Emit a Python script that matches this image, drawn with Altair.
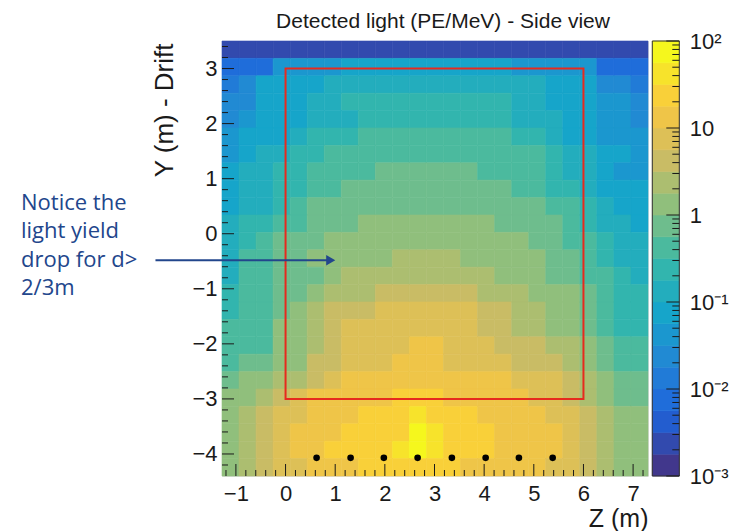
import altair as alt
import numpy as np
import pandas as pd

# ---------------- data ----------------
Z_RANGE = (-1.28, 7.3)     # histogram range along Z (m)
Y_RANGE = (-4.4, 3.5)      # histogram range along Y (m)
NZ, NY = 25, 25

# detected light (PE/MeV), rows from top (Y=3.5) to bottom (Y=-4.4), 25 Z bins each
light_yield = [
    [0.0024, 0.0024, 0.0024, 0.0024, 0.0024, 0.0024, 0.0024, 0.0024, 0.0024, 0.0024, 0.0024, 0.0024, 0.0024, 0.0024, 0.0024, 0.0024, 0.0024, 0.0024, 0.0024, 0.0024, 0.0024, 0.0024, 0.0024, 0.0024, 0.0024],
    [0.0075, 0.0075, 0.0075, 0.042, 0.042, 0.042, 0.042, 0.075, 0.075, 0.075, 0.075, 0.075, 0.075, 0.075, 0.075, 0.075, 0.075, 0.042, 0.042, 0.042, 0.042, 0.042, 0.0075, 0.0075, 0.0075],
    [0.013, 0.024, 0.075, 0.075, 0.075, 0.075, 0.13, 0.13, 0.13, 0.13, 0.13, 0.13, 0.13, 0.13, 0.13, 0.13, 0.13, 0.13, 0.13, 0.075, 0.075, 0.075, 0.024, 0.024, 0.013],
    [0.024, 0.024, 0.075, 0.075, 0.075, 0.13, 0.13, 0.24, 0.24, 0.24, 0.24, 0.24, 0.24, 0.24, 0.24, 0.24, 0.24, 0.13, 0.13, 0.075, 0.075, 0.075, 0.042, 0.042, 0.024],
    [0.024, 0.042, 0.075, 0.075, 0.075, 0.13, 0.13, 0.13, 0.24, 0.24, 0.24, 0.24, 0.24, 0.24, 0.24, 0.24, 0.24, 0.13, 0.13, 0.13, 0.075, 0.075, 0.042, 0.042, 0.024],
    [0.042, 0.075, 0.075, 0.075, 0.13, 0.24, 0.24, 0.24, 0.42, 0.42, 0.42, 0.42, 0.42, 0.42, 0.42, 0.42, 0.42, 0.24, 0.24, 0.13, 0.075, 0.075, 0.042, 0.042, 0.042],
    [0.042, 0.075, 0.13, 0.13, 0.24, 0.24, 0.42, 0.42, 0.42, 0.42, 0.42, 0.42, 0.42, 0.42, 0.42, 0.42, 0.42, 0.42, 0.42, 0.24, 0.13, 0.13, 0.075, 0.075, 0.042],
    [0.075, 0.13, 0.13, 0.24, 0.24, 0.42, 0.42, 0.42, 0.42, 0.75, 0.75, 0.75, 0.75, 0.75, 0.75, 0.42, 0.42, 0.42, 0.42, 0.24, 0.13, 0.13, 0.075, 0.042, 0.042],
    [0.075, 0.13, 0.13, 0.24, 0.24, 0.42, 0.42, 0.75, 0.75, 0.75, 0.75, 0.75, 0.75, 0.75, 0.75, 0.75, 0.75, 0.42, 0.42, 0.24, 0.24, 0.13, 0.075, 0.075, 0.075],
    [0.075, 0.13, 0.13, 0.24, 0.42, 0.75, 0.75, 0.75, 0.75, 0.75, 0.75, 0.75, 0.75, 0.75, 0.75, 0.75, 0.75, 0.75, 0.75, 0.42, 0.42, 0.24, 0.13, 0.075, 0.075],
    [0.13, 0.24, 0.24, 0.42, 0.42, 0.75, 0.75, 0.75, 1.3, 1.3, 1.3, 1.3, 1.3, 1.3, 1.3, 1.3, 0.75, 0.75, 0.75, 0.75, 0.42, 0.24, 0.13, 0.13, 0.075],
    [0.13, 0.24, 0.42, 0.75, 0.75, 0.75, 1.3, 1.3, 1.3, 1.3, 1.3, 1.3, 1.3, 1.3, 1.3, 1.3, 1.3, 1.3, 0.75, 0.75, 0.42, 0.42, 0.24, 0.13, 0.13],
    [0.13, 0.42, 0.42, 0.75, 0.75, 1.3, 1.3, 1.3, 1.3, 1.3, 2.4, 2.4, 2.4, 2.4, 1.3, 1.3, 1.3, 1.3, 1.3, 0.75, 0.75, 0.42, 0.24, 0.13, 0.13],
    [0.13, 0.42, 0.42, 0.75, 0.75, 0.75, 1.3, 2.4, 2.4, 2.4, 2.4, 2.4, 2.4, 2.4, 2.4, 2.4, 1.3, 1.3, 1.3, 0.75, 0.75, 0.42, 0.42, 0.24, 0.13],
    [0.24, 0.42, 0.42, 0.75, 0.75, 1.3, 2.4, 2.4, 2.4, 4.2, 4.2, 4.2, 4.2, 4.2, 4.2, 2.4, 2.4, 2.4, 1.3, 1.3, 1.3, 0.75, 0.42, 0.24, 0.24],
    [0.24, 0.42, 0.42, 0.75, 1.3, 2.4, 4.2, 4.2, 4.2, 7.5, 7.5, 7.5, 7.5, 7.5, 7.5, 4.2, 4.2, 2.4, 2.4, 1.3, 1.3, 0.75, 0.42, 0.24, 0.24],
    [0.42, 0.42, 0.42, 1.3, 1.3, 2.4, 4.2, 7.5, 7.5, 7.5, 7.5, 7.5, 7.5, 7.5, 7.5, 4.2, 4.2, 2.4, 2.4, 1.3, 1.3, 0.75, 0.42, 0.24, 0.24],
    [0.42, 0.42, 0.42, 1.3, 1.3, 2.4, 4.2, 7.5, 7.5, 7.5, 7.5, 13, 13, 7.5, 7.5, 7.5, 4.2, 4.2, 4.2, 2.4, 2.4, 1.3, 0.75, 0.42, 0.42],
    [0.42, 0.75, 0.75, 1.3, 1.3, 4.2, 4.2, 7.5, 7.5, 7.5, 13, 13, 13, 7.5, 7.5, 7.5, 7.5, 4.2, 4.2, 4.2, 2.4, 1.3, 0.75, 0.42, 0.42],
    [0.75, 1.3, 1.3, 2.4, 2.4, 4.2, 7.5, 13, 13, 13, 13, 13, 13, 13, 13, 13, 13, 7.5, 7.5, 7.5, 4.2, 2.4, 1.3, 0.75, 0.75],
    [1.3, 1.3, 2.4, 4.2, 7.5, 13, 13, 13, 13, 13, 24, 24, 24, 13, 13, 13, 13, 13, 7.5, 7.5, 4.2, 2.4, 1.3, 0.75, 0.75],
    [1.3, 2.4, 4.2, 7.5, 7.5, 13, 13, 13, 24, 24, 24, 42, 24, 24, 24, 13, 13, 13, 13, 7.5, 7.5, 4.2, 2.4, 1.3, 1.3],
    [1.3, 2.4, 4.2, 7.5, 13, 13, 13, 24, 24, 24, 24, 75, 42, 24, 24, 24, 13, 13, 13, 13, 7.5, 4.2, 2.4, 1.3, 1.3],
    [1.3, 2.4, 4.2, 7.5, 13, 13, 24, 24, 24, 24, 42, 75, 42, 24, 24, 24, 13, 13, 13, 13, 7.5, 4.2, 2.4, 1.3, 1.3],
    [1.3, 2.4, 4.2, 7.5, 7.5, 13, 13, 13, 24, 24, 24, 24, 24, 24, 13, 13, 13, 13, 13, 7.5, 7.5, 4.2, 2.4, 1.3, 1.3],
]
assert len(light_yield) == NY and all(len(r) == NZ for r in light_yield)

# photon detectors (black dots)
pmt_z = [0.625, 1.31, 1.98, 2.66, 3.35, 4.03, 4.70, 5.38]
pmt_y = [-4.07, -4.07, -4.07, -4.07, -4.07, -4.07, -4.07, -4.07]

# fiducial box (red)
fid_z = [0, 6]
fid_y = [-3, 3]

# axis ticks / labels
x_major = [-1, 0, 1, 2, 3, 4, 5, 6, 7]
y_major = [-4, -3, -2, -1, 0, 1, 2, 3]
x_minor = [v for v in np.round(np.arange(-1.2, 7.21, 0.2), 1) if abs(v - round(v)) > 1e-6]
y_minor = [v for v in np.round(np.arange(-4.2, 3.41, 0.2), 1) if abs(v - round(v)) > 1e-6]
cb_major = [1e-3, 1e-2, 1e-1, 1, 10, 100]
cb_minor = [k * 10.0 ** d for d in range(-3, 2) for k in range(2, 10)]

# texts
title_text = "Detected light (PE/MeV) - Side view"
note_lines = ["Notice the", "light yield", "drop for d>", "2/3m"]
source_text = "From DUNE DP"
arrow_z = [-2.62, 0.91]
arrow_y = [-0.48]

# ---------------- palette (ROOT kBird), 20 contour levels over 1e-3..1e2 ----------------
stops = [0.0, 0.125, 0.25, 0.375, 0.5, 0.625, 0.75, 0.875, 1.0]
red = [0.2082, 0.0592, 0.0780, 0.0232, 0.1802, 0.5301, 0.8186, 0.9956, 0.9764]
green = [0.1664, 0.3599, 0.5041, 0.6419, 0.7178, 0.7492, 0.7328, 0.7862, 0.9832]
blue = [0.5293, 0.8684, 0.8385, 0.7914, 0.6425, 0.4662, 0.3499, 0.1968, 0.0539]
NLEV = 20
def bird(t):
    r, g, b = (np.interp(t, stops, ch) for ch in (red, green, blue))
    # slight wash-out as in the reference scan
    r, g, b = (0.92 * c + 0.08 * 0.78 for c in (r, g, b))
    return "#%02x%02x%02x" % (int(round(r * 255)), int(round(g * 255)), int(round(b * 255)))
band_colors = [bird(k / (NLEV - 1)) for k in range(NLEV)]
band_edges = [10.0 ** (-3 + 5 * k / NLEV) for k in range(NLEV + 1)]
thresholds = band_edges[1:-1]

# ---------------- tables ----------------
z_edges = np.linspace(Z_RANGE[0], Z_RANGE[1], NZ + 1)
y_edges = np.linspace(Y_RANGE[1], Y_RANGE[0], NY + 1)
cells = pd.DataFrame([
    dict(z0=z_edges[c], z1=z_edges[c + 1], y0=y_edges[r + 1], y1=y_edges[r], v=light_yield[r][c])
    for r in range(NY) for c in range(NZ)
])

W, H = 426, 435
FONT = "Liberation Sans"
INK = "#1a1a1a"
NOTE = "#22468c"

xs = alt.Scale(domain=list(Z_RANGE), nice=False, zero=False)
ys = alt.Scale(domain=list(Y_RANGE), nice=False, zero=False)
cscale = alt.Scale(type="threshold", domain=thresholds, range=band_colors)

heat = alt.Chart(cells).mark_rect(strokeWidth=0.6).encode(
    x=alt.X("z0:Q", scale=xs, axis=alt.Axis(
        values=x_major, ticks=False, domain=False, grid=False, labelFontSize=22,
        labelFont=FONT, labelColor=INK, labelPadding=7, title="Z (m)", titleFont=FONT,
        titleFontSize=25, titleFontWeight="normal", titleColor=INK, titleX=W, titleY=50,
        titleAlign="right", titleBaseline="alphabetic")),
    x2="z1:Q",
    y=alt.Y("y0:Q", scale=ys, axis=alt.Axis(
        values=y_major, ticks=False, domain=False, grid=False, labelFontSize=22,
        labelFont=FONT, labelColor=INK, labelPadding=5, title="Y (m) - Drift", titleFont=FONT,
        titleFontSize=26, titleFontWeight="normal", titleColor=INK, titleX=-50, titleY=2,
        titleAngle=270, titleAlign="right", titleBaseline="alphabetic")),
    y2="y1:Q",
    color=alt.Color("v:Q", scale=cscale, legend=None),
    stroke=alt.Stroke("v:Q", scale=cscale, legend=None),
)

box = alt.Chart(pd.DataFrame({"z0": [fid_z[0]], "z1": [fid_z[1]], "y0": [fid_y[0]], "y1": [fid_y[1]]})).mark_rect(
    filled=False, stroke="#e62a1e", strokeWidth=2
).encode(x=alt.X("z0:Q", scale=xs), x2="z1:Q", y=alt.Y("y0:Q", scale=ys), y2="y1:Q")

dots = alt.Chart(pd.DataFrame({"z0": pmt_z, "y0": pmt_y})).mark_circle(size=44, color="black", opacity=1).encode(
    x=alt.X("z0:Q", scale=xs), y=alt.Y("y0:Q", scale=ys))

ytick_major = alt.Chart(pd.DataFrame({"y0": y_major})).mark_rule(color=INK, strokeWidth=1).encode(
    y=alt.Y("y0:Q", scale=ys), x=alt.value(0), x2=alt.value(12))
ytick_minor = alt.Chart(pd.DataFrame({"y0": y_minor})).mark_rule(color=INK, strokeWidth=1).encode(
    y=alt.Y("y0:Q", scale=ys), x=alt.value(0), x2=alt.value(6))
xtick_major = alt.Chart(pd.DataFrame({"z0": x_major})).mark_rule(color=INK, strokeWidth=1).encode(
    x=alt.X("z0:Q", scale=xs), y=alt.value(H), y2=alt.value(H - 12))
xtick_minor = alt.Chart(pd.DataFrame({"z0": x_minor})).mark_rule(color=INK, strokeWidth=1).encode(
    x=alt.X("z0:Q", scale=xs), y=alt.value(H), y2=alt.value(H - 6))

arrow_line = alt.Chart(pd.DataFrame({"z0": [arrow_z[0]], "z1": [arrow_z[1]], "y0": arrow_y})).mark_rule(
    color=NOTE, strokeWidth=2).encode(x=alt.X("z0:Q", scale=xs), x2="z1:Q", y=alt.Y("y0:Q", scale=ys))
arrow_head = alt.Chart(pd.DataFrame({"z0": [arrow_z[1]], "y0": arrow_y})).mark_point(
    shape="triangle-right", size=110, filled=True, color=NOTE, opacity=1).encode(
    x=alt.X("z0:Q", scale=xs), y=alt.Y("y0:Q", scale=ys))

note = alt.Chart(pd.DataFrame({"t": ["\n".join(note_lines)]})).mark_text(
    align="left", baseline="top", font="Open Sans", fontSize=22, lineHeight=28.3,
    lineBreak="\n", color=NOTE).encode(text="t:N", x=alt.value(-201), y=alt.value(152))

source = alt.Chart(pd.DataFrame({"t": [source_text]})).mark_text(
    align="left", baseline="alphabetic", font="Open Sans", fontSize=20, color="#9a9a9a"
).encode(text="t:N", x=alt.value(10), y=alt.value(H + 69))

title = alt.Chart(pd.DataFrame({"t": [title_text]})).mark_text(
    align="center", baseline="alphabetic", font=FONT, fontSize=21, color=INK
).encode(text="t:N", x=alt.value(W / 2 + 8), y=alt.value(-13))

main = alt.layer(heat, box, dots, ytick_major, ytick_minor, xtick_major, xtick_minor,
                 arrow_line, arrow_head, note, source, title)

# ---------------- colour bar ----------------
CB_X0, CB_X1 = 430.3, 457.3
cbs = alt.Scale(type="log", domain=[band_edges[0], band_edges[-1]], nice=False)
cb_df = pd.DataFrame({"lo": band_edges[:-1], "hi": band_edges[1:], "col": band_colors})
label_expr = ("datum.value >= 99 ? '10²' : datum.value >= 9 ? '10' : datum.value >= 0.9 ? '1' : "
              "datum.value >= 0.09 ? '10⁻¹' : datum.value >= 0.009 ? '10⁻²' : '10⁻³'")
cbar = alt.Chart(cb_df).mark_rect(strokeWidth=0.6).encode(
    x=alt.value(CB_X0), x2=alt.value(CB_X1),
    y=alt.Y("lo:Q", scale=cbs, axis=alt.Axis(
        orient="right", offset=CB_X1 - W, values=cb_major, labelExpr=label_expr, ticks=False,
        domain=False, grid=False, labelFont=FONT, labelFontSize=22, labelColor=INK,
        labelPadding=10, title=None)),
    y2="hi:Q",
    color=alt.Color("col:N", scale=None),
    stroke=alt.Stroke("col:N", scale=None),
)
cb_frame = alt.Chart(pd.DataFrame({"lo": [band_edges[0]], "hi": [band_edges[-1]]})).mark_rect(
    filled=False, stroke="#333333", strokeWidth=1).encode(
    x=alt.value(CB_X0), x2=alt.value(CB_X1), y=alt.Y("lo:Q", scale=cbs), y2="hi:Q")
cb_tmaj = alt.Chart(pd.DataFrame({"lo": cb_major})).mark_rule(color=INK, strokeWidth=1).encode(
    y=alt.Y("lo:Q", scale=cbs), x=alt.value(CB_X1 - 13), x2=alt.value(CB_X1))
cb_tmin = alt.Chart(pd.DataFrame({"lo": cb_minor})).mark_rule(color=INK, strokeWidth=1).encode(
    y=alt.Y("lo:Q", scale=cbs), x=alt.value(CB_X1 - 7), x2=alt.value(CB_X1))

colorbar = alt.layer(cbar, cb_frame, cb_tmaj, cb_tmin)

chart = alt.layer(main, colorbar).resolve_scale(
    y="independent", color="independent", stroke="independent"
).properties(
    width=W, height=H,
    padding={"left": 222, "top": 41, "right": 99, "bottom": 55},
    autosize=alt.AutoSizeParams(type="none"),
).configure_view(stroke="#333333", strokeWidth=1).configure(background="white")

chart.save("out.html", embed_options={"renderer": "svg", "actions": False})
